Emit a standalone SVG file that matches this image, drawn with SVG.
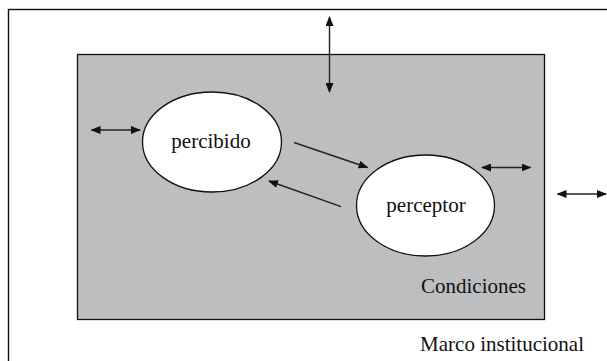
<svg xmlns="http://www.w3.org/2000/svg" width="607" height="361" viewBox="0 0 607 361">
<style>
.t{font-family:"Liberation Serif","Times New Roman",serif;font-size:21px;fill:#111}
.c{stroke:#222;stroke-width:1.4;fill:none}
.e{fill:#fff;stroke:#111;stroke-width:1.3}
</style>
<defs>
<marker id="ah" viewBox="0 0 10 8" refX="9" refY="4" markerWidth="10" markerHeight="8" markerUnits="userSpaceOnUse" orient="auto-start-reverse">
<path d="M0,0 L10,4 L0,8 Z" fill="#111"/>
</marker>
</defs>
<rect id="marco" x="8.5" y="9.5" width="610" height="370" fill="#fff" stroke="#111" stroke-width="1.4"/>
<g id="condiciones">
<rect x="77.5" y="54.5" width="467" height="265" fill="#bdbec0" stroke="#111" stroke-width="1.3"/>
<text class="t" x="526" y="293" text-anchor="end">Condiciones</text>
</g>
<g id="percibido">
<ellipse class="e" cx="212" cy="142" rx="69.5" ry="50"/>
<text class="t" x="211" y="148" text-anchor="middle">percibido</text>
</g>
<g id="perceptor">
<ellipse class="e" cx="425.5" cy="205.5" rx="69" ry="50.5"/>
<text class="t" x="426" y="212" text-anchor="middle">perceptor</text>
</g>
<text class="t" x="584" y="351" text-anchor="end">Marco institucional</text>
<g id="connectors">
<line class="c" x1="329.5" y1="17" x2="329.5" y2="92" marker-start="url(#ah)" marker-end="url(#ah)"/>
<line class="c" x1="91.5" y1="130" x2="140" y2="130" marker-start="url(#ah)" marker-end="url(#ah)"/>
<line class="c" x1="482" y1="167.5" x2="530.5" y2="167.5" marker-start="url(#ah)" marker-end="url(#ah)"/>
<line class="c" x1="557.5" y1="194" x2="606" y2="194" marker-start="url(#ah)" marker-end="url(#ah)"/>
<line class="c" x1="294" y1="142.5" x2="367.5" y2="167.5" marker-end="url(#ah)"/>
<line class="c" x1="341" y1="206.7" x2="269" y2="181" marker-end="url(#ah)"/>
</g>
</svg>
